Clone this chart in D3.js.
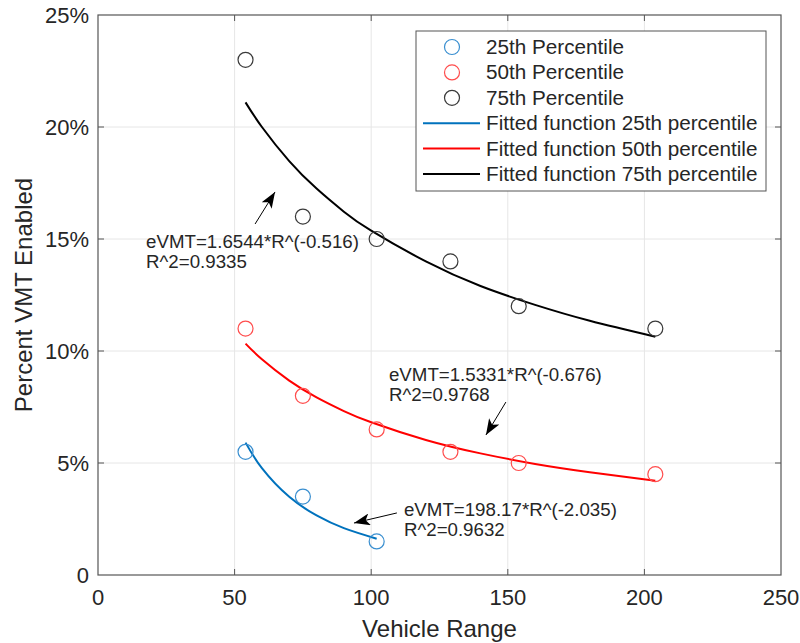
<!DOCTYPE html>
<html>
<head>
<meta charset="utf-8">
<script src="https://cdn.jsdelivr.net/npm/d3@7"></script>
<style>
  body { margin: 0; background: #fff; }
  svg { display: block; font-family: "Liberation Sans", Arial, Helvetica, sans-serif; }
</style>
</head>
<body>
<svg id="chart" width="800" height="643"></svg>
<script>
// measured points (range, percent)
const ranges25 = [54, 75, 102];
const pct25 = [5.5, 3.5, 1.5];
const ranges50 = [54, 75, 102, 129, 154, 204];
const pct50 = [11, 8, 6.5, 5.5, 5, 4.5];
const ranges75 = [54, 75, 102, 129, 154, 204];
const pct75 = [23, 16, 15, 14, 12, 11];

// fitted curves
const fitX25 = [54, 60, 70, 80, 90, 102];
const fitY25 = [5.91, 4.77, 3.49, 2.66, 2.09, 1.62];
const fitX50 = [54, 60, 70, 80, 90, 100, 120, 140, 160, 180, 204];
const fitY50 = [10.33, 9.63, 8.68, 7.93, 7.32, 6.82, 6.03, 5.43, 4.96, 4.59, 4.21];
const fitX75 = [54, 60, 70, 80, 90, 100, 120, 140, 160, 180, 204];
const fitY75 = [21.1, 20.0, 18.48, 17.25, 16.22, 15.37, 14.0, 12.9, 12.06, 11.35, 10.64];

const xTicks = [0, 50, 100, 150, 200, 250];
const yTicks = [0, 5, 10, 15, 20, 25];

const seriesNames = ["25th Percentile", "50th Percentile", "75th Percentile"];
const fitNames = ["Fitted function 25th percentile", "Fitted function 50th percentile", "Fitted function 75th percentile"];
const lineColors = ["#0072bd", "#ff0000", "#000000"];
const markerColors = ["#3a8fd0", "#ff4d4d", "#3a3a3a"];

// annotation text + arrow (data units)
const annotations = [
  { lines: ["eVMT=1.6544*R^(-0.516)", "R^2=0.9335"], tx: 17.6, ty: 14.6, from: [57.5, 15.67], to: [64.8, 17.1] },
  { lines: ["eVMT=1.5331*R^(-0.676)", "R^2=0.9768"], tx: 106.5, ty: 8.66, from: [149.3, 7.72], to: [142.0, 6.25] },
  { lines: ["eVMT=198.17*R^(-2.035)", "R^2=0.9632"], tx: 112.0, ty: 2.63, from: [109.4, 2.77], to: [93.7, 2.32] }
];

const svg = d3.select("#chart");
const plotL = 98, plotR = 781, plotT = 15, plotB = 575;
const textColor = "#262626";

const x = d3.scaleLinear().domain([0, 250]).range([plotL, plotR]);
const y = d3.scaleLinear().domain([0, 25]).range([plotB, plotT]);

// grid
svg.append("g").selectAll("line").data(xTicks.slice(1, -1)).join("line")
  .attr("x1", d => x(d)).attr("x2", d => x(d))
  .attr("y1", plotT).attr("y2", plotB)
  .attr("stroke", "#e6e6e6").attr("stroke-width", 1);
svg.append("g").selectAll("line").data(yTicks.slice(1, -1)).join("line")
  .attr("x1", plotL).attr("x2", plotR)
  .attr("y1", d => y(d)).attr("y2", d => y(d))
  .attr("stroke", "#e6e6e6").attr("stroke-width", 1);

// box
svg.append("rect")
  .attr("x", plotL).attr("y", plotT)
  .attr("width", plotR - plotL).attr("height", plotB - plotT)
  .attr("fill", "none").attr("stroke", "#555").attr("stroke-width", 1.2);

// inward ticks on all four sides
const tickLen = 6;
const tickG = svg.append("g").attr("stroke", "#555").attr("stroke-width", 1);
xTicks.slice(1, -1).forEach(t => {
  tickG.append("line").attr("x1", x(t)).attr("x2", x(t)).attr("y1", plotB).attr("y2", plotB - tickLen);
  tickG.append("line").attr("x1", x(t)).attr("x2", x(t)).attr("y1", plotT).attr("y2", plotT + tickLen);
});
yTicks.slice(1, -1).forEach(t => {
  tickG.append("line").attr("x1", plotL).attr("x2", plotL + tickLen).attr("y1", y(t)).attr("y2", y(t));
  tickG.append("line").attr("x1", plotR).attr("x2", plotR - tickLen).attr("y1", y(t)).attr("y2", y(t));
});

// tick labels
svg.append("g").selectAll("text").data(xTicks).join("text")
  .attr("x", d => x(d)).attr("y", 605)
  .attr("text-anchor", "middle")
  .attr("font-size", 22).attr("fill", textColor)
  .text(d => d);
svg.append("g").selectAll("text").data(yTicks).join("text")
  .attr("x", 89).attr("y", d => y(d) + 8)
  .attr("text-anchor", "end")
  .attr("font-size", 22).attr("fill", textColor)
  .text(d => d === 0 ? "0" : d + "%");

// axis titles
svg.append("text")
  .attr("x", x(125)).attr("y", 637)
  .attr("text-anchor", "middle")
  .attr("font-size", 24).attr("fill", textColor)
  .text("Vehicle Range");
svg.append("text")
  .attr("transform", `translate(32,${(plotT + plotB) / 2}) rotate(-90)`)
  .attr("text-anchor", "middle")
  .attr("font-size", 24).attr("fill", textColor)
  .text("Percent VMT Enabled");

// fitted lines
const line = d3.line().x(d => x(d[0])).y(d => y(d[1])).curve(d3.curveNatural);
const fits = [
  d3.zip(fitX25, fitY25),
  d3.zip(fitX50, fitY50),
  d3.zip(fitX75, fitY75)
];
fits.forEach((f, i) => {
  svg.append("path").datum(f)
    .attr("d", line)
    .attr("fill", "none")
    .attr("stroke", lineColors[i])
    .attr("stroke-width", 2);
});

// markers
const pts = [
  d3.zip(ranges25, pct25),
  d3.zip(ranges50, pct50),
  d3.zip(ranges75, pct75)
];
pts.forEach((p, i) => {
  svg.append("g").selectAll("circle").data(p).join("circle")
    .attr("cx", d => x(d[0])).attr("cy", d => y(d[1]))
    .attr("r", 7.5)
    .attr("fill", "none")
    .attr("stroke", markerColors[i])
    .attr("stroke-width", 1.2);
});

// arrowhead marker
svg.append("defs").append("marker")
  .attr("id", "arrow")
  .attr("viewBox", "0 0 16 12")
  .attr("refX", 16).attr("refY", 6)
  .attr("markerWidth", 16).attr("markerHeight", 12)
  .attr("markerUnits", "userSpaceOnUse")
  .attr("orient", "auto")
  .append("path")
  .attr("d", "M0,0 L16,6 L0,12 L4,6 Z")
  .attr("fill", "#000");

// annotations
annotations.forEach(a => {
  svg.append("line")
    .attr("x1", x(a.from[0])).attr("y1", y(a.from[1]))
    .attr("x2", x(a.to[0])).attr("y2", y(a.to[1]))
    .attr("stroke", "#000").attr("stroke-width", 1)
    .attr("marker-end", "url(#arrow)");
  const t = svg.append("text")
    .attr("x", x(a.tx)).attr("y", y(a.ty))
    .attr("font-size", 18.7).attr("fill", textColor);
  a.lines.forEach((l, k) => {
    t.append("tspan").attr("x", x(a.tx)).attr("dy", k === 0 ? 0 : 20).text(l);
  });
});

// legend
const lg = svg.append("g");
lg.append("rect")
  .attr("x", 416).attr("y", 31).attr("width", 350).attr("height", 160)
  .attr("fill", "#fff").attr("stroke", "#555").attr("stroke-width", 1);
const rowY = d3.scaleLinear().domain([0, 5]).range([47, 174]);
seriesNames.forEach((n, i) => {
  lg.append("circle")
    .attr("cx", 452).attr("cy", rowY(i)).attr("r", 7.5)
    .attr("fill", "none").attr("stroke", markerColors[i]).attr("stroke-width", 1.2);
  lg.append("text")
    .attr("x", 486).attr("y", rowY(i) + 7)
    .attr("font-size", 20.7).attr("fill", textColor)
    .text(n);
});
fitNames.forEach((n, i) => {
  const r = rowY(i + 3);
  lg.append("line")
    .attr("x1", 423).attr("x2", 480).attr("y1", r).attr("y2", r)
    .attr("stroke", lineColors[i]).attr("stroke-width", 2);
  lg.append("text")
    .attr("x", 486).attr("y", r + 7)
    .attr("font-size", 20.7).attr("fill", textColor)
    .text(n);
});
</script>
</body>
</html>
